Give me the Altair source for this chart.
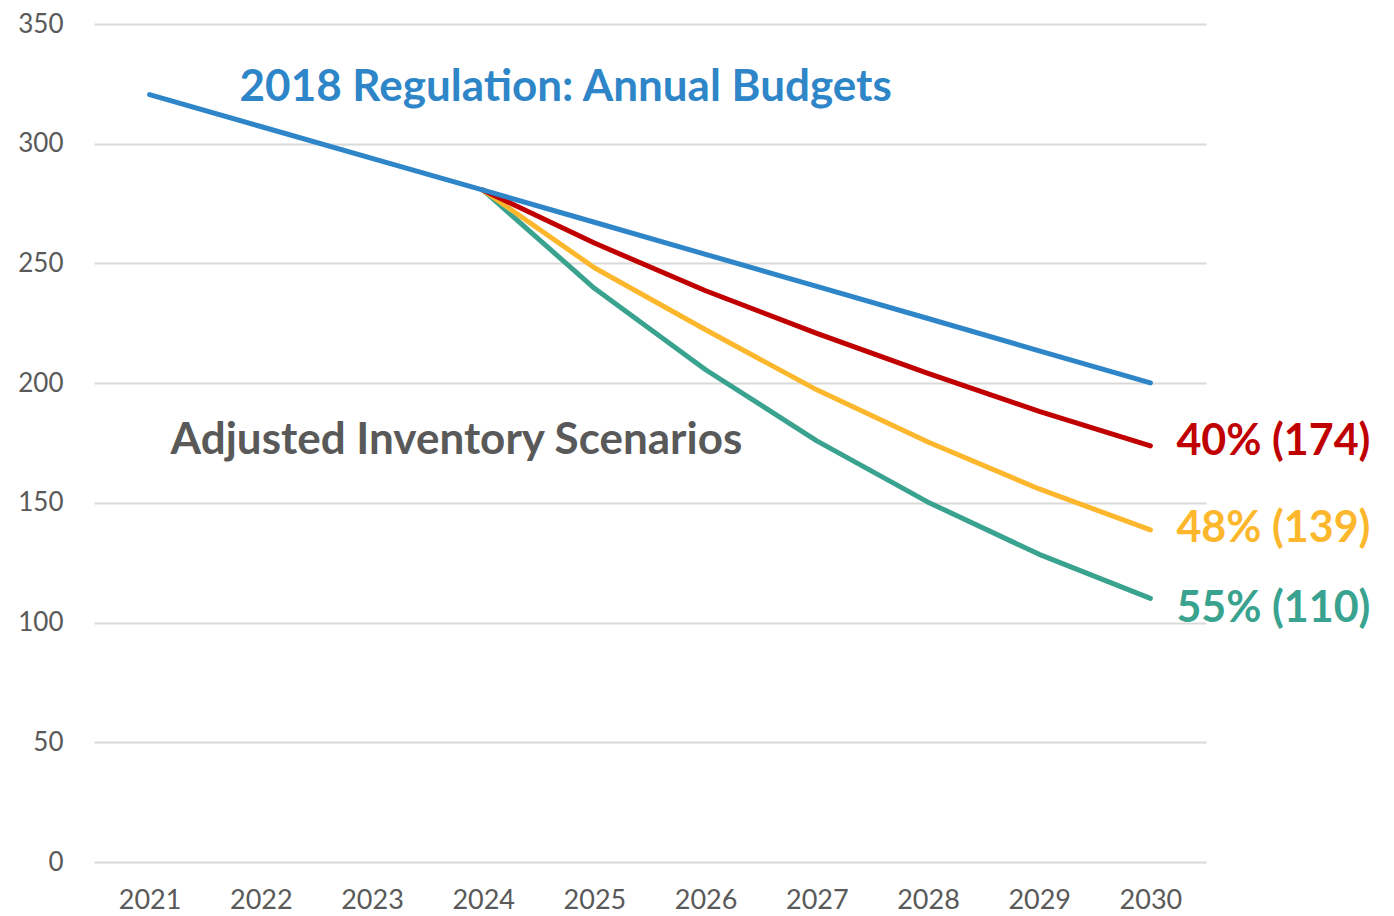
import altair as alt
import pandas as pd

years = ["2021", "2022", "2023", "2024", "2025", "2026", "2027", "2028", "2029", "2030"]
budget_2018 = [320.5, 307.2, 293.9, 280.6, 267.2, 253.8, 240.4, 227.0, 213.5, 200.1]
scen_years = ["2024", "2025", "2026", "2027", "2028", "2029", "2030"]
scen_40 = [280.6, 258.5, 238.6, 220.8, 204.1, 188.2, 173.8]
scen_48 = [280.6, 248.2, 222.3, 197.2, 175.4, 155.8, 138.7]
scen_55 = [280.6, 239.6, 205.6, 175.9, 150.3, 128.5, 110.1]

series_names = ["55% (110)", "48% (139)", "40% (174)", "2018 Regulation"]
series_colors = ["#3AA38F", "#FDB72D", "#C00000", "#2E86C8"]

end_labels_text = ["40% (174)", "48% (139)", "55% (110)"]
end_colors = ["#C00000", "#FDB72D", "#3AA38F"]
title_texts = ["2018 Regulation: Annual Budgets", "Adjusted Inventory Scenarios"]

rows = []
for y, v in zip(scen_years, scen_55):
    rows.append({"year": y, "value": v, "series": series_names[0], "order": 0})
for y, v in zip(scen_years, scen_48):
    rows.append({"year": y, "value": v, "series": series_names[1], "order": 1})
for y, v in zip(scen_years, scen_40):
    rows.append({"year": y, "value": v, "series": series_names[2], "order": 2})
for y, v in zip(years, budget_2018):
    rows.append({"year": y, "value": v, "series": series_names[3], "order": 3})
df = pd.DataFrame(rows)

FONT = "Lato"
GRAY = "#595959"

x_enc = alt.X(
    "year:N",
    sort=years,
    scale=alt.Scale(type="point", domain=years, padding=0.5),
    axis=alt.Axis(
        title=None, labelAngle=0, domain=False, ticks=False, grid=False,
        labelFont=FONT, labelFontSize=27, labelColor=GRAY, labelPadding=25,
    ),
)
y_enc = alt.Y(
    "value:Q",
    scale=alt.Scale(domain=[0, 350], nice=False, zero=True),
    axis=alt.Axis(
        title=None, values=[0, 50, 100, 150, 200, 250, 300, 350],
        domain=False, ticks=False, grid=True, gridColor="#D9D9D9", gridWidth=2,
        labelFont=FONT, labelFontSize=26, labelColor=GRAY, labelPadding=31,
    ),
)

lines = alt.Chart(df).mark_line(strokeWidth=5, strokeCap="round", strokeJoin="round").encode(
    x=x_enc,
    y=y_enc,
    color=alt.Color("series:N", scale=alt.Scale(domain=series_names, range=series_colors), legend=None),
    detail="series:N",
    order="order:Q",
)

end_values = [scen_40[-1], scen_48[-1], scen_55[-1]]
end_dys = [-4, -1, 11]
end_layers = []
for lab, val, col, dy in zip(end_labels_text, end_values, end_colors, end_dys):
    d = pd.DataFrame({"year": [years[-1]], "value": [val], "label": [lab]})
    end_layers.append(
        alt.Chart(d).mark_text(
            align="left", baseline="middle", dx=26, dy=dy, font=FONT, fontSize=43,
            fontWeight="bold", color=col,
        ).encode(x=alt.X("year:N", sort=years), y="value:Q", text="label:N")
    )

blue_df = pd.DataFrame({"year": [years[0]], "value": [323.4], "label": [title_texts[0]]})
gray_df = pd.DataFrame({"year": [years[0]], "value": [176.0], "label": [title_texts[1]]})
blue_title = alt.Chart(blue_df).mark_text(
    align="left", baseline="middle", dx=90, font=FONT, fontSize=44, fontWeight="bold", color="#2E86C8"
).encode(x=alt.X("year:N", sort=years), y="value:Q", text="label:N")
gray_title = alt.Chart(gray_df).mark_text(
    align="left", baseline="middle", dx=21, font=FONT, fontSize=44, fontWeight="bold", color=GRAY
).encode(x=alt.X("year:N", sort=years), y="value:Q", text="label:N")

chart = alt.layer(lines, blue_title, gray_title, *end_layers).properties(
    width=1112,
    height=838,
    autosize=alt.AutoSizeParams(type="none"),
    padding={"left": 86, "top": 16, "right": 180, "bottom": 53},
    background="white",
).configure_view(strokeWidth=0, stroke=None)

chart.save("out.html", embed_options={"renderer": "svg", "actions": False})
